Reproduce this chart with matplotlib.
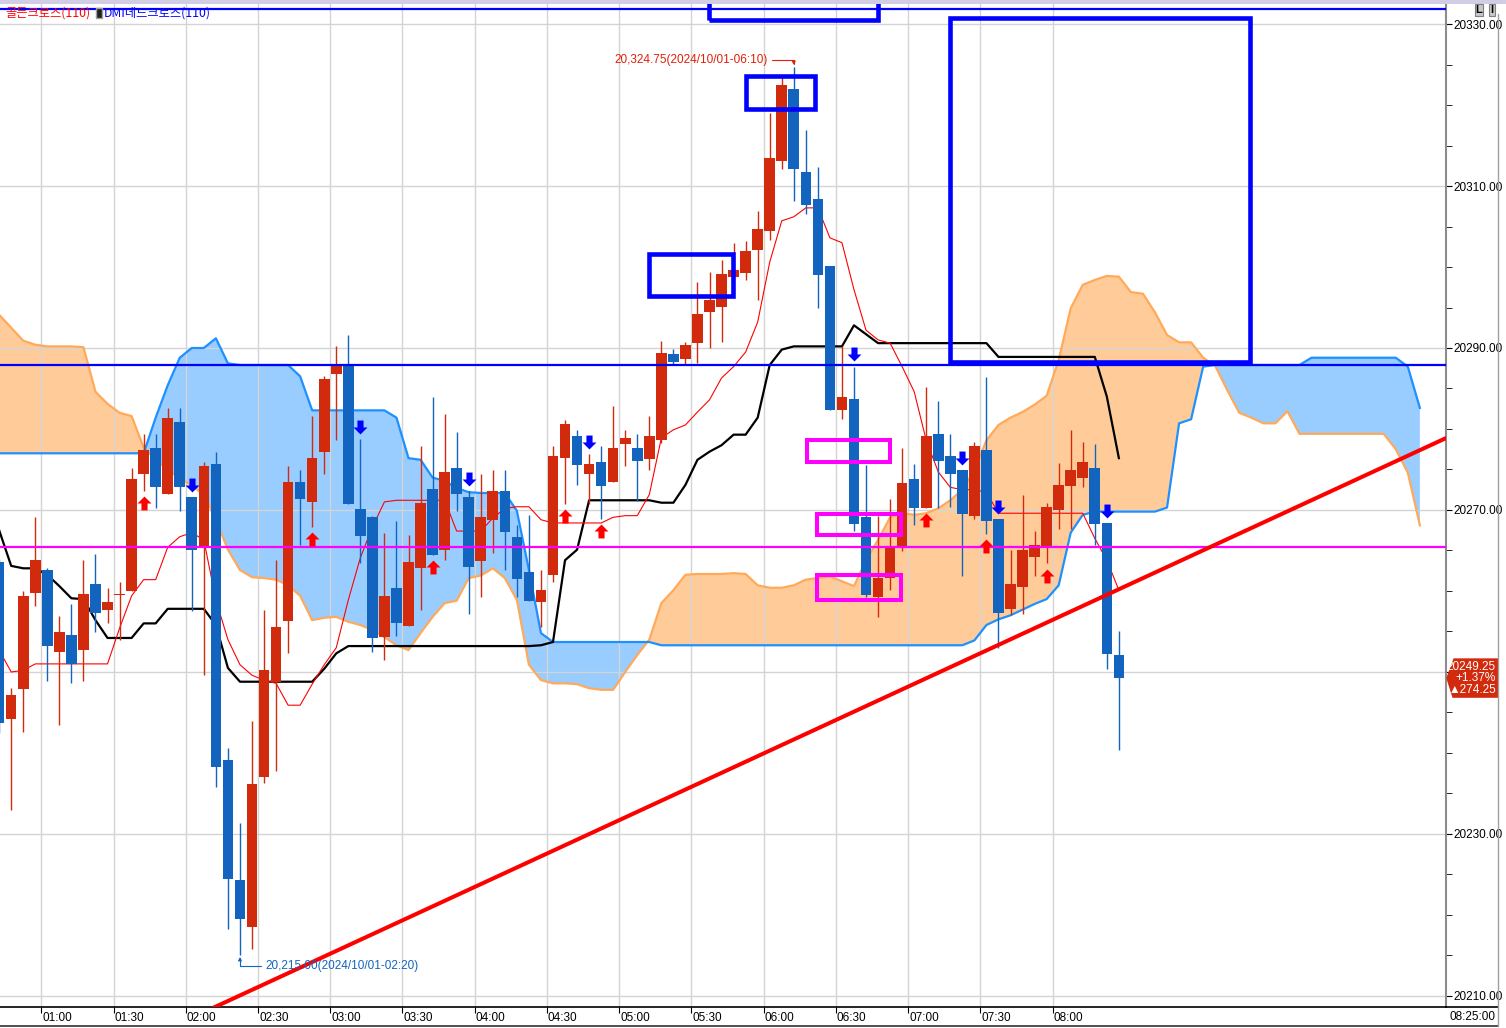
import numpy as np
import matplotlib.pyplot as plt
from matplotlib.path import Path
from matplotlib.patches import Rectangle, Polygon
from matplotlib.lines import Line2D
from matplotlib.ticker import FixedLocator, FuncFormatter, NullFormatter
import matplotlib.transforms as mtransforms

W, H = 1506, 1028

# first visible 5-minute bar, counted from the 01:00 bar
FIRST_BAR = -4

opens = [
    20263.6, 20244.2, 20247.9, 20259.8, 20262.6, 20252.5, 20254.6, 20252.7, 20260.9, 20257.6,
    20259.5, 20260.0, 20274.4, 20277.7, 20272.0, 20280.9, 20271.6, 20265.6, 20275.7, 20239.1,
    20224.3, 20218.5, 20237.0, 20248.8, 20256.3, 20273.4, 20271.0, 20277.1, 20286.8, 20287.9,
    20270.1, 20269.1, 20254.3, 20260.4, 20255.7, 20262.8, 20272.6, 20265.0, 20275.2, 20271.6,
    20263.7, 20268.8, 20272.3, 20266.7, 20262.3, 20258.6, 20262.0, 20276.4, 20279.1, 20274.4,
    20275.9, 20273.5, 20278.1, 20277.7, 20276.3, 20278.6, 20289.2, 20288.6, 20290.6, 20294.4,
    20295.1, 20298.8, 20299.3, 20302.1, 20304.4, 20313.1, 20322.0, 20311.7, 20308.4, 20300.1,
    20282.3, 20283.7, 20269.1, 20259.3, 20261.6, 20265.6, 20273.8, 20270.3, 20279.4, 20276.7,
    20274.9, 20269.3, 20277.4, 20268.9, 20257.8, 20260.5, 20264.2, 20265.6, 20270.0, 20273.0,
    20274.0, 20275.2, 20268.4, 20252.1,
]
highs = [
    20264.0, 20248.0, 20260.0, 20269.1, 20262.8, 20256.9, 20258.4, 20263.8, 20264.6, 20260.4,
    20261.1, 20275.2, 20279.4, 20279.4, 20282.6, 20282.6, 20271.6, 20275.9, 20277.2, 20240.6,
    20231.3, 20243.9, 20257.7, 20263.8, 20275.4, 20274.9, 20281.6, 20286.5, 20290.2, 20291.6,
    20278.8, 20269.3, 20267.2, 20268.6, 20266.9, 20277.9, 20284.0, 20281.9, 20279.6, 20272.3,
    20274.4, 20274.9, 20274.9, 20268.1, 20269.4, 20262.6, 20277.9, 20281.1, 20279.9, 20276.9,
    20277.9, 20282.8, 20279.9, 20279.4, 20281.6, 20290.9, 20289.9, 20290.7, 20298.1, 20299.4,
    20300.9, 20303.0, 20303.2, 20306.9, 20319.0, 20323.5, 20324.75, 20316.9, 20312.3, 20300.1,
    20290.2, 20287.7, 20275.6, 20269.2, 20271.4, 20277.7, 20275.7, 20285.2, 20283.5, 20279.4,
    20274.9, 20278.4, 20286.4, 20268.9, 20265.1, 20271.9, 20267.4, 20270.9, 20275.8, 20279.9,
    20278.4, 20278.1, 20268.4, 20255.1,
]
lows = [
    20242.5, 20232.9, 20242.6, 20258.2, 20248.9, 20243.4, 20248.7, 20248.9, 20254.9, 20256.1,
    20253.9, 20260.0, 20272.4, 20270.2, 20272.0, 20269.9, 20257.5, 20249.6, 20235.8, 20218.3,
    20215.0, 20215.8, 20236.3, 20237.8, 20252.4, 20265.7, 20267.9, 20274.5, 20278.6, 20270.8,
    20263.4, 20252.5, 20251.5, 20254.4, 20255.7, 20257.7, 20264.5, 20263.8, 20269.9, 20257.2,
    20259.3, 20264.7, 20262.6, 20259.3, 20258.8, 20255.6, 20261.1, 20270.8, 20273.1, 20270.8,
    20268.9, 20273.5, 20275.4, 20271.1, 20274.9, 20278.3, 20287.9, 20288.0, 20288.1, 20290.0,
    20290.7, 20298.4, 20298.4, 20295.9, 20303.3, 20312.1, 20308.2, 20306.5, 20295.0, 20282.3,
    20281.2, 20267.4, 20259.2, 20256.8, 20260.1, 20264.9, 20268.1, 20270.3, 20270.3, 20270.4,
    20261.9, 20268.9, 20267.0, 20253.0, 20257.0, 20257.2, 20261.8, 20263.4, 20267.7, 20267.7,
    20272.9, 20265.7, 20250.4, 20240.4,
]
closes = [
    20243.7, 20247.2, 20259.4, 20263.8, 20253.2, 20254.9, 20251.0, 20259.6, 20257.3, 20258.6,
    20259.6, 20273.8, 20277.4, 20272.8, 20281.4, 20272.8, 20265.0, 20275.4, 20238.3, 20224.5,
    20219.5, 20236.2, 20250.2, 20255.6, 20273.4, 20271.3, 20276.4, 20286.2, 20287.9, 20270.8,
    20266.8, 20254.2, 20259.4, 20256.0, 20263.6, 20270.9, 20264.5, 20274.7, 20272.0, 20263.0,
    20269.1, 20272.3, 20267.3, 20261.5, 20258.8, 20260.1, 20276.7, 20280.6, 20275.6, 20275.7,
    20273.0, 20277.7, 20278.9, 20276.1, 20279.1, 20289.4, 20288.3, 20290.4, 20294.2, 20295.9,
    20299.1, 20299.6, 20302.0, 20304.7, 20313.5, 20322.5, 20312.1, 20307.6, 20299.0, 20282.3,
    20284.0, 20268.3, 20259.5, 20261.6, 20265.3, 20273.3, 20270.3, 20279.1, 20276.1, 20274.4,
    20269.5, 20277.9, 20268.6, 20257.3, 20260.9, 20265.1, 20265.7, 20270.4, 20273.1, 20274.9,
    20275.9, 20268.3, 20252.2, 20249.25,
]

# base line (black) and conversion line (thin red)
kijun = [
    20267.5, 20263.1, 20262.8, 20262.8, 20262.0, 20260.6, 20259.1, 20259.0, 20256.4, 20254.2,
    20254.2, 20254.2, 20256.0, 20256.0, 20257.8, 20257.8, 20257.8, 20257.8, 20255.8, 20250.5,
    20248.8, 20248.8, 20248.8, 20248.8, 20248.8, 20248.8, 20248.8, 20250.4, 20252.3, 20253.2,
    20253.2, 20253.2, 20253.2, 20253.2, 20253.2, 20253.2, 20253.2, 20253.2, 20253.2, 20253.2,
    20253.2, 20253.2, 20253.2, 20253.2, 20253.2, 20253.3, 20253.7, 20263.8, 20265.1, 20271.2,
    20271.2, 20271.2, 20271.2, 20271.2, 20271.2, 20270.9, 20270.9, 20273.1, 20276.2, 20277.2,
    20278.0, 20279.3, 20279.3, 20281.4, 20287.9, 20289.8, 20290.2, 20290.2, 20290.2, 20290.2,
    20290.2, 20292.8, 20291.7, 20290.6, 20290.6, 20290.6, 20290.6, 20290.6, 20290.6, 20290.6,
    20290.6, 20290.6, 20290.6, 20288.9, 20288.9, 20288.9, 20288.9, 20288.9, 20288.9, 20288.9,
    20288.9, 20288.9, 20284.0, 20276.4,
]
tenkan = [
    20252.7, 20250.0, 20250.2, 20251.0, 20251.0, 20251.0, 20251.0, 20251.0, 20251.0, 20251.0,
    20255.4, 20259.4, 20261.4, 20261.4, 20265.4, 20266.7, 20267.2, 20266.3, 20258.9, 20254.0,
    20250.9, 20249.6, 20249.0, 20248.6, 20245.9, 20245.9, 20248.5, 20250.9, 20253.0, 20258.9,
    20264.1, 20267.9, 20271.0, 20271.2, 20271.2, 20271.2, 20271.2, 20271.2, 20267.4, 20267.4,
    20267.4, 20269.0, 20270.2, 20270.4, 20270.4, 20268.8, 20268.4, 20268.4, 20268.4, 20268.4,
    20268.4, 20269.1, 20269.3, 20269.3, 20271.9, 20278.9, 20279.9, 20280.5, 20282.1, 20283.6,
    20286.3, 20287.7, 20289.5, 20293.2, 20300.6, 20305.7, 20306.2, 20307.3, 20307.3, 20303.6,
    20303.0, 20297.2, 20292.2, 20291.0, 20290.6, 20287.7, 20284.6, 20278.6, 20274.7, 20272.8,
    20272.5, 20272.5, 20272.2, 20269.6, 20269.6, 20269.6, 20269.6, 20269.6, 20269.6, 20269.6,
    20269.6, 20266.5, 20263.8, 20260.1,
]

# leading spans, running 25 bars past the last candle
span_orange = [
    20294.1, 20292.5, 20290.9, 20290.4, 20290.2, 20290.2, 20290.2, 20290.1, 20284.6, 20283.1,
    20282.0, 20281.6, 20277.7, 20276.2, 20275.0, 20273.9, 20273.0, 20271.9, 20268.8, 20265.1,
    20262.6, 20261.7, 20261.6, 20261.4, 20260.7, 20259.4, 20256.4, 20256.7, 20256.8, 20256.2,
    20255.8, 20255.2, 20254.3, 20253.3, 20252.7, 20254.8, 20256.8, 20258.5, 20258.8, 20261.6,
    20261.9, 20262.8, 20261.6, 20258.9, 20250.9, 20249.0, 20248.6, 20248.6, 20248.5, 20248.0,
    20247.8, 20247.8, 20250.0, 20252.1, 20254.0, 20258.5, 20260.1, 20262.0, 20262.1, 20262.1,
    20262.1, 20262.2, 20262.1, 20260.7, 20260.4, 20260.4, 20260.7, 20261.4, 20261.6, 20261.8,
    20261.2, 20260.6, 20263.8, 20266.3, 20269.1, 20269.6, 20269.4, 20269.6, 20270.2, 20271.2,
    20272.5, 20274.9, 20278.6, 20280.5, 20281.4, 20282.1, 20283.0, 20284.1, 20288.5, 20294.9,
    20297.8, 20298.4, 20298.9, 20298.8, 20296.9, 20296.7, 20294.4, 20291.6, 20290.7, 20290.7,
    20288.8, 20287.8, 20284.8, 20282.0, 20281.4, 20280.7, 20280.7, 20282.2, 20279.4, 20279.4,
    20279.4, 20279.4, 20279.4, 20279.4, 20279.4, 20279.4, 20277.5, 20274.6, 20268.1,
]
span_blue = [
    20277.0, 20277.0, 20277.0, 20277.0, 20277.0, 20277.0, 20277.0, 20277.0, 20277.0, 20277.0,
    20277.0, 20277.0, 20277.0, 20281.4, 20285.4, 20288.8, 20290.0, 20290.0, 20291.2, 20288.1,
    20287.9, 20287.9, 20287.9, 20287.9, 20287.9, 20286.5, 20282.3, 20282.3, 20282.3, 20282.3,
    20282.3, 20282.3, 20282.3, 20281.4, 20276.4, 20276.2, 20274.0, 20273.6, 20272.7, 20272.2,
    20272.1, 20272.1, 20272.1, 20269.9, 20262.6, 20254.8, 20253.7, 20253.7, 20253.7, 20253.7,
    20253.7, 20253.7, 20253.7, 20253.7, 20253.7, 20253.3, 20253.3, 20253.3, 20253.3, 20253.3,
    20253.3, 20253.3, 20253.3, 20253.3, 20253.3, 20253.3, 20253.3, 20253.3, 20253.3, 20253.3,
    20253.3, 20253.3, 20253.3, 20253.3, 20253.3, 20253.3, 20253.3, 20253.3, 20253.3, 20253.3,
    20253.3, 20253.9, 20255.8, 20256.5, 20257.0, 20257.7, 20258.4, 20259.0, 20260.7, 20267.2,
    20269.4, 20269.8, 20269.8, 20269.8, 20269.8, 20269.8, 20269.8, 20270.3, 20280.7, 20281.2,
    20287.7, 20287.9, 20287.9, 20287.9, 20287.9, 20287.9, 20287.9, 20287.9, 20287.9, 20288.8,
    20288.8, 20288.8, 20288.8, 20288.8, 20288.8, 20288.8, 20288.8, 20287.7, 20282.6,
]

time_labels = ["01:00", "01:30", "02:00", "02:30", "03:00", "03:30", "04:00", "04:30",
               "05:00", "05:30", "06:00", "06:30", "07:00", "07:30", "08:00"]
price_labels = [20210, 20230, 20250, 20270, 20290, 20310, 20330]

buy_signals = [8, 22, 32, 43, 46, 73, 78, 83]
sell_signals = [12, 26, 35, 45, 67, 76, 79, 88]

# drawn objects: horizontal levels, a trend line and boxes (bar, bar, price, price)
blue_level = 20287.9
magenta_level = 20265.4
top_level = 20331.9
trend_points = [(14.3, 20208.9), (116.2, 20278.9)]
blue_boxes = [(58.0, 63.8, 20319.5, 20323.6), (50.0, 56.95, 20296.4, 20301.6),
              (75.0, 99.9, 20288.3, 20330.7), (54.96, 69.0, 20330.5, 20345.0)]
magenta_boxes = [(63.1, 69.99, 20275.9, 20278.6), (63.9, 70.9, 20266.9, 20269.5),
                 (63.9, 70.9, 20258.9, 20262.0)]

last_info = ["20249.25", "+1.37%", "\u25b2274.25"]

UP = "#D22A0C"
DOWN = "#1264BE"


def arrow_marker(up=True):
    s = 1 if up else -1
    verts = [(-0.5, 0), (0, 0.5 * s), (0.5, 0), (0.22, 0), (0.22, -0.5 * s),
             (-0.22, -0.5 * s), (-0.22, 0), (-0.5, 0)]
    codes = [Path.MOVETO] + [Path.LINETO] * 6 + [Path.CLOSEPOLY]
    return Path(verts, codes)


def time_of(bar):
    minutes = 60 + 5 * int(bar)
    return f"{minutes // 60:02d}:{minutes % 60:02d}"


def main():
    plt.rcParams['font.family'] = ['Liberation Sans', 'DejaVu Sans']
    fig = plt.figure(figsize=(W / 100, H / 100), dpi=100)
    ax = fig.add_axes([0, (H - 1007) / H, 1446 / W, (1007 - 4) / H])
    ax.set_xlim(-3.93, 116.17)
    ax.set_ylim(20208.64, 20332.47)

    o = np.array(opens)
    hi = np.array(highs)
    lo = np.array(lows)
    c = np.array(closes)
    x = np.arange(FIRST_BAR, FIRST_BAR + len(o))
    xc = np.arange(FIRST_BAR, FIRST_BAR + len(span_orange))
    so = np.array(span_orange)
    sb = np.array(span_blue)

    # cloud
    ax.fill_between(xc, so, sb, where=so >= sb, interpolate=True,
                    color="#FFCC99", lw=0, zorder=0.3)
    ax.fill_between(xc, so, sb, where=so < sb, interpolate=True,
                    color="#99CCFF", lw=0, zorder=0.3)
    ax.plot(xc, so, color="#FFAA5A", lw=1.6, zorder=1)
    ax.plot(xc, sb, color="#1E90FF", lw=1.6, zorder=1)

    ax.plot(x, kijun, color="black", lw=1.6, zorder=2)
    ax.plot(x, tenkan, color="#FF0000", lw=0.8, zorder=2)

    # candles
    up = c >= o
    colors = np.where(up, UP, DOWN)
    ax.vlines(x, lo, hi, colors=colors, lw=1, zorder=3)
    body = np.maximum(np.abs(c - o), 0.15)
    ax.bar(x, body, bottom=np.minimum(o, c), width=0.88, color=colors,
           lw=0, zorder=3.5)

    # drawn levels and shapes
    ax.axhline(blue_level, color="#0000FF", lw=1.6, zorder=5)
    ax.axhline(magenta_level, color="#FF00FF", lw=1.6, zorder=5)
    ax.axhline(top_level, color="#0000FF", lw=1.6, zorder=5)
    ax.axline(trend_points[0], trend_points[1], color="#FF0000", lw=2.9, zorder=5)
    for x0, x1, p0, p1 in blue_boxes:
        ax.add_patch(Rectangle((x0, p0), x1 - x0, p1 - p0, fill=False,
                               ec="#0000FF", lw=3.3, zorder=5))
    for x0, x1, p0, p1 in magenta_boxes:
        ax.add_patch(Rectangle((x0, p0), x1 - x0, p1 - p0, fill=False,
                               ec="#FF00FF", lw=2.9, zorder=5))

    # signals
    bi = np.array(buy_signals) - FIRST_BAR
    si = np.array(sell_signals) - FIRST_BAR
    ax.plot(x[bi], lo[bi] - 1.5, ls="none", marker=arrow_marker(True),
            ms=10, color="#FF0000", mec="none", zorder=6)
    ax.plot(x[si], hi[si] + 1.5, ls="none", marker=arrow_marker(False),
            ms=10, color="#0000FF", mec="none", zorder=6)

    # high / low labels
    ih = int(np.argmax(hi))
    il = int(np.argmin(lo))
    ax.annotate(f"{hi[ih]:,.2f}(2024/10/01-{time_of(x[ih])})", xy=(x[ih], hi[ih]),
                xytext=(-26, 7), textcoords="offset pixels", ha="right", va="center",
                fontsize=8.5, color="#E0200A", zorder=7,
                arrowprops=dict(arrowstyle="-|>", color="#E0200A", lw=0.8,
                                mutation_scale=5, shrinkA=1, shrinkB=1,
                                connectionstyle="angle,angleA=0,angleB=90,rad=0"))
    ax.annotate(f"{lo[il]:,.2f}(2024/10/01-{time_of(x[il])})", xy=(x[il], lo[il]),
                xytext=(25, -11), textcoords="offset pixels", ha="left", va="center",
                fontsize=8.5, color=DOWN, zorder=7,
                arrowprops=dict(arrowstyle="-|>", color=DOWN, lw=0.8,
                                mutation_scale=5, shrinkA=1, shrinkB=1,
                                connectionstyle="angle,angleA=0,angleB=90,rad=0"))

    # axes styling
    tick_pos = [6 * i - 0.5 for i in range(len(time_labels))]
    ax.set_xticks(tick_pos)
    ax.tick_params(axis="x", direction="out", length=4, color="black", labelbottom=False)
    lab_tr = mtransforms.offset_copy(ax.get_xaxis_transform(), fig=fig, x=1, y=-11, units="dots")
    for p, t in zip(tick_pos, time_labels):
        ax.text(p, 0, t, transform=lab_tr, ha="left", va="center", fontsize=8.5)

    last = c[-1]
    ax.yaxis.tick_right()
    ax.yaxis.set_major_locator(FixedLocator(price_labels))
    ax.yaxis.set_minor_locator(FixedLocator(np.arange(20210, 20335, 5)))
    # the label under the last-price box is hidden, as on the terminal
    ax.yaxis.set_major_formatter(
        FuncFormatter(lambda v, _: "" if abs(v - last) < 3 else f"{v:.2f}"))
    ax.yaxis.set_minor_formatter(NullFormatter())
    ax.tick_params(axis="y", which="major", direction="out", length=4, pad=1,
                   labelsize=8.5, color="black")
    ax.tick_params(axis="y", which="minor", direction="out", length=4, color="black")

    ax.set_axisbelow(True)
    ax.grid(True, color="#D4D4D4", lw=1)
    for side in ("top", "left"):
        ax.spines[side].set_visible(False)
    ax.spines["right"].set_color("#8C8C8C")
    ax.spines["right"].set_linewidth(1.5)
    ax.spines["bottom"].set_color("black")
    ax.spines["bottom"].set_linewidth(1.2)

    # last price box on the right axis
    yt = ax.get_yaxis_transform()
    half = 2.35
    box = Polygon([(1447 / 1446, last), (1454 / 1446, last + half), (1498 / 1446, last + half),
                   (1498 / 1446, last - half), (1453 / 1446, last - half)],
                  closed=True, transform=yt, color=UP, clip_on=False, zorder=10)
    ax.add_patch(box)
    ax.text(1496 / 1446, last, "\n".join(last_info), transform=yt, ha="right", va="center",
            fontsize=8.5, color="white", linespacing=0.95, clip_on=False, zorder=11)

    # frame pieces outside the plot
    fig.patches.append(Rectangle((0, 1 - 4 / H), 1, 4 / H, transform=fig.transFigure,
                                 color="#D0CDE4", lw=0))
    fig.lines.append(Line2D([1446 / W, 1498 / W], [1 - 1007 / H] * 2,
                            transform=fig.transFigure, color="black", lw=1.2))
    fig.lines.append(Line2D([0, 1498 / W], [1 - 1026 / H] * 2,
                            transform=fig.transFigure, color="#303030", lw=1.2))
    fig.lines.append(Line2D([1498 / W] * 2, [1 - 1026 / H, 1 - 14 / H],
                            transform=fig.transFigure, color="#A0A0A0", lw=1))
    fig.text(1496 / W, 1 - 1017 / H, "08:25:00", ha="right", va="center", fontsize=8.5)
    for xx, t in ((1479, "L"), (1492, "I")):
        fig.text(xx / W, 1 - 10 / H, t, ha="center", va="center", fontsize=8,
                 fontweight="bold", bbox=dict(boxstyle="square,pad=0.1", fc="#C8C8C8",
                                               ec="#808080", lw=0.8))

    cjk = ["Noto Sans CJK KR", "DejaVu Sans"]
    fig.text(90 / W, 1 - 13 / H, "골든크로스(110)", ha="right", va="center",
             fontsize=8.8, color="#FF0000", family=cjk)
    fig.patches.append(Rectangle((96 / W, 1 - 18 / H), 6 / W, 10 / H,
                                 transform=fig.transFigure, fc="#202020", ec="#A0A0A0", lw=1))
    fig.text(104 / W, 1 - 13 / H, "DMI데드크로스(110)", ha="left", va="center",
             fontsize=8.8, color="#0000FF", family=cjk)

    fig.savefig("out.png", dpi=100)


if __name__ == "__main__":
    main()
